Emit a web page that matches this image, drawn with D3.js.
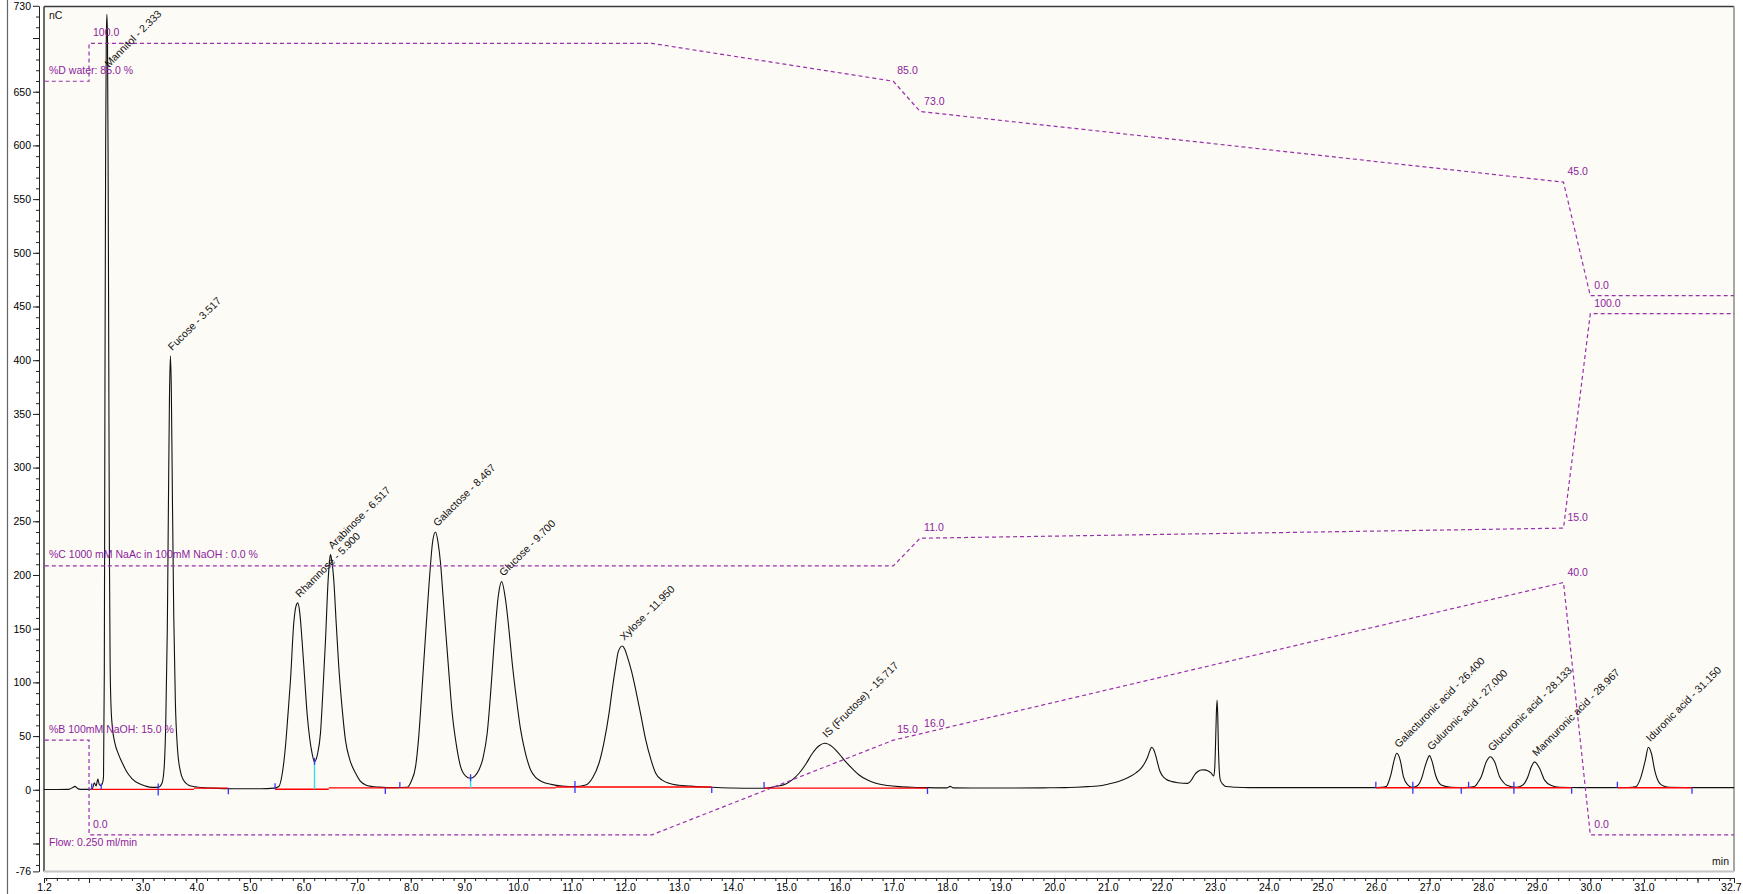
<!DOCTYPE html>
<html>
<head>
<meta charset="utf-8">
<script src="https://cdn.jsdelivr.net/npm/d3@7/dist/d3.min.js"></script>
<style>
    body { margin: 0; background: #ffffff; }
    svg { display: block; font-family: "Liberation Sans", Arial, sans-serif; }
</style>
</head>
<body>
<div id="chart"></div>
<script>
// detector signal, [time in min, response in nC]
var trace = [
    [1.16, 0.3], [1.40, 0.3], [1.62, 0.4], [1.70, 2.2], [1.74, 3.2], [1.78, 1.5], [1.84, 0.4], [2.00, 0.4],
    [2.06, 1.0], [2.10, 6.5], [2.13, 3.5], [2.165, 10], [2.19, 5], [2.22, 4], [2.25, 6],
    [2.27, 12], [2.285, 110], [2.297, 380], [2.31, 600], [2.322, 700], [2.333, 722], [2.344, 700], [2.356, 580],
    [2.368, 400], [2.38, 220], [2.393, 120], [2.41, 78], [2.44, 56], [2.48, 44], [2.55, 33], [2.62, 25],
    [2.70, 17], [2.80, 10.5], [2.92, 6], [3.05, 3.5], [3.18, 2.2], [3.30, 2.5],
    [3.36, 6], [3.40, 20], [3.43, 60], [3.46, 150], [3.48, 262], [3.50, 365], [3.517, 404], [3.535, 372],
    [3.555, 272], [3.58, 162], [3.61, 82], [3.65, 38], [3.70, 18], [3.76, 9], [3.85, 4.5], [3.95, 3],
    [4.10, 2], [4.30, 1.5], [4.70, 1.0], [5.20, 1.0], [5.45, 1.5],
    [5.54, 3], [5.60, 14], [5.663, 40], [5.71, 70], [5.757, 102], [5.818, 155], [5.86, 171], [5.893, 174],
    [5.93, 165], [5.973, 139], [6.02, 105], [6.067, 71], [6.115, 48], [6.16, 34], [6.205, 26],
    [6.26, 33], [6.317, 53], [6.365, 95], [6.41, 139], [6.459, 195], [6.49, 215], [6.503, 219], [6.525, 214],
    [6.565, 195], [6.61, 155], [6.658, 114.6], [6.72, 76], [6.783, 46], [6.87, 27], [6.97, 15.6], [7.06, 8],
    [7.157, 4.5], [7.28, 3], [7.405, 2.5], [7.70, 2], [7.933, 2.3],
    [8.01, 8], [8.09, 21.5], [8.15, 50], [8.213, 96], [8.275, 143], [8.338, 189], [8.413, 232.6], [8.463, 240],
    [8.51, 230], [8.556, 211], [8.60, 182], [8.65, 148.8], [8.71, 110], [8.773, 71.5], [8.85, 42], [8.93, 21.5],
    [9.02, 13], [9.116, 10.7],
    [9.19, 12.5], [9.271, 18.4], [9.35, 30], [9.426, 52.6], [9.49, 90], [9.551, 133], [9.632, 180], [9.695, 193.8],
    [9.769, 176.7], [9.83, 150], [9.893, 117.8], [9.97, 85], [10.05, 55.7], [10.14, 34], [10.236, 18.4], [10.34, 11],
    [10.45, 7.5], [10.62, 5], [10.826, 3.5], [11.05, 3],
    [11.263, 4.5], [11.39, 11], [11.511, 24.7], [11.60, 43], [11.698, 71.2], [11.76, 94], [11.822, 114.6], [11.871, 128.6],
    [11.946, 133.9], [11.99, 131], [12.039, 124], [12.12, 110], [12.196, 93], [12.29, 70], [12.383, 46.4], [12.48, 28],
    [12.569, 15.4], [12.69, 9], [12.817, 6], [13.00, 4.2], [13.19, 3.5], [13.40, 2.8], [13.625, 2.3],
    [14.0, 1.6], [14.4, 1.4],
    [14.622, 1.4], [14.80, 3], [14.995, 5.4], [15.12, 9.5], [15.244, 15.4], [15.37, 24], [15.492, 34], [15.617, 41],
    [15.723, 43.3], [15.865, 40], [15.99, 33.5], [16.115, 26], [16.24, 19.5], [16.363, 13.8], [16.52, 9], [16.675, 6],
    [16.89, 4], [17.11, 2.9], [17.35, 2.3], [17.608, 2],
    [17.9, 1.8], [18.0, 1.8], [18.06, 3.2], [18.12, 1.8], [18.6, 1.6], [19.2, 1.6], [19.8, 1.8], [20.2, 2.0],
    [20.42, 2.4], [20.62, 2.9], [20.813, 3.5], [21.0, 5.2], [21.186, 7.5], [21.31, 9.8], [21.434, 12.8], [21.53, 16],
    [21.621, 20], [21.69, 25], [21.746, 30.8], [21.79, 37], [21.82, 39.6], [21.86, 37], [21.9, 30.8], [21.935, 24],
    [21.965, 18.4], [22.02, 13], [22.088, 9.8], [22.2, 7.6], [22.306, 6.6], [22.493, 6], [22.56, 9], [22.617, 13.8],
    [22.68, 17], [22.74, 18.4], [22.80, 18.5], [22.865, 17.8], [22.93, 15.5], [22.977, 12.8], [22.995, 20], [23.009, 40],
    [23.025, 70], [23.039, 83.6], [23.052, 68], [23.065, 37], [23.08, 18], [23.1, 9], [23.15, 5], [23.205, 3],
    [23.4, 2.3], [23.643, 2], [24.5, 2], [25.3, 2], [25.976, 2],
    [26.1, 2.2], [26.193, 3], [26.24, 7.5], [26.286, 15], [26.342, 27.7], [26.391, 34], [26.454, 27.7], [26.516, 12],
    [26.596, 4.5], [26.678, 2.3], [26.75, 3], [26.814, 6], [26.86, 11.5], [26.907, 20], [26.958, 27.7], [27.0, 31.8],
    [27.051, 26], [27.113, 13.8], [27.219, 4.5], [27.406, 2.3], [27.65, 2], [27.841, 3], [27.90, 6.5], [27.966, 12.2],
    [28.06, 26], [28.134, 30.8], [28.215, 26], [28.308, 12.2], [28.37, 7.5], [28.433, 4.5], [28.62, 2.3], [28.743, 4.5],
    [28.836, 12.2], [28.9, 21.5], [28.961, 26], [29.054, 20], [29.147, 9], [29.273, 4], [29.428, 2.3], [29.8, 2],
    [30.3, 2], [30.7, 2.1], [30.854, 3], [30.947, 12.2], [31.027, 27.7], [31.083, 39.6], [31.139, 34], [31.2, 18.4],
    [31.294, 6], [31.38, 3.3], [31.48, 2.3], [32.0, 2], [32.68, 2]
];

// peak names and retention times as labelled
var peakNames = ["Mannitol", "Fucose", "Rhamnose", "Arabinose", "Galactose", "Glucose", "Xylose",
    "IS (Fructose)", "Galacturonic acid", "Guluronic acid", "Glucuronic acid", "Mannuronic acid", "Iduronic acid"];
var peakTimes = [2.333, 3.517, 5.900, 6.517, 8.467, 9.700, 11.950, 15.717, 26.400, 27.000, 28.133, 28.967, 31.150];

// integration baselines
var baseStart = [2.05, 3.956, 5.47, 6.472, 10.703, 14.59, 26.0, 30.505];
var baseEnd = [3.956, 4.598, 6.472, 10.703, 13.614, 17.638, 29.652, 31.897];
var baseLevel = [0.3, 1.5, 0.5, 1.7, 2.6, 1.6, 1.9, 1.9];

// peak start / end markers (s = start, e = end, b = both)
var markTimes = [2.05, 2.227, 3.29, 4.598, 5.47, 7.526, 7.797, 11.063, 13.614, 14.59, 17.638,
    26.0, 26.69, 27.593, 27.73, 28.575, 29.652, 30.505, 31.897];
var markKinds = ["s", "s", "b", "e", "s", "e", "s", "b", "e", "s", "e",
    "s", "b", "e", "s", "b", "e", "s", "e"];

// valley drop lines
var dropTimes = [6.205, 9.116];

// gradient program
var gradTime = [0, 2.0, 2.0, 12.5, 17.0, 17.5, 29.5, 30.0, 40.0];
var pctD = [85, 85, 100, 100, 85, 73, 45, 0, 0];
var pctC = [0, 0, 0, 0, 0, 11, 15, 100, 100];
var pctB = [15, 15, 0, 0, 15, 16, 40, 0, 0];
var gradNames = ["%D water:", "%C 1000 mM NaAc in 100mM NaOH :", "%B 100mM NaOH:"];
var flowText = "Flow: 0.250 ml/min";

// axis ticks
var xMajor = [1.16, 2, 3, 4, 5, 6, 7, 8, 9, 10, 11, 12, 13, 14, 15, 16, 17, 18, 19, 20,
    21, 22, 23, 24, 25, 26, 27, 28, 29, 30, 31, 32, 32.68];
var xHidden = [2, 32];
var yMajor = [730, 700, 650, 600, 550, 500, 450, 400, 350, 300, 250, 200, 150, 100, 50, 0, -50, -76];
var yHidden = [700, -50];

// size of the page and the plot frame
var width = 1743, height = 894;
var plotLeft = 44, plotRight = 1734, plotTop = 5.8, plotBottom = 871.4, frameTop = 6.5;
var purple = "#9b2fae", purpleText = "#8c1d9c";

var svg = d3.select("#chart")
    .append("svg")
        .attr("width", width)
        .attr("height", height);

// scales
var x = d3.scaleLinear().domain([1.16, 32.68]).range([plotLeft, plotRight]);
var y = d3.scaleLinear().domain([-76, 730]).range([plotBottom, plotTop]);

// outer border line at the far left
svg.append("line")
    .attr("x1", 7.5).attr("x2", 7.5).attr("y1", 0).attr("y2", height)
    .attr("stroke", "#666").attr("stroke-width", 1.2);

// plot background
svg.append("rect")
    .attr("x", plotLeft).attr("y", frameTop)
    .attr("width", plotRight - plotLeft).attr("height", plotBottom - frameTop)
    .attr("fill", "#fdfbf6");

svg.append("defs").append("clipPath").attr("id", "plotClip")
    .append("rect")
        .attr("x", plotLeft).attr("y", frameTop)
        .attr("width", plotRight - plotLeft).attr("height", plotBottom - frameTop);

// frame lines
svg.append("line").attr("x1", plotLeft).attr("x2", plotRight).attr("y1", frameTop).attr("y2", frameTop)
    .attr("stroke", "#3a3a3a").attr("stroke-width", 1.5);
svg.append("line").attr("x1", plotLeft).attr("x2", plotLeft).attr("y1", frameTop).attr("y2", plotBottom)
    .attr("stroke", "#3a3a3a").attr("stroke-width", 1.5);
svg.append("line").attr("x1", plotRight).attr("x2", plotRight).attr("y1", frameTop).attr("y2", plotBottom)
    .attr("stroke", "#8a8a8a").attr("stroke-width", 1.5);
svg.append("line").attr("x1", plotLeft).attr("x2", plotRight).attr("y1", plotBottom).attr("y2", plotBottom)
    .attr("stroke", "#c4c4c4").attr("stroke-width", 2);

// y axis, minor ticks first
svg.append("g")
    .attr("transform", "translate(39,0)")
    .call(d3.axisLeft(y).tickValues(d3.range(-70, 730, 10)).tickSize(3).tickFormat(""))
    .call(g => g.select(".domain").remove())
    .call(g => g.selectAll("line").attr("stroke", "#222"));

svg.append("g")
    .attr("transform", "translate(39,0)")
    .call(d3.axisLeft(y).tickValues(yMajor).tickSize(6).tickSizeOuter(0).tickPadding(2)
        .tickFormat(d => yHidden.includes(d) ? "" : d))
    .call(g => g.selectAll("text").style("font-size", "10.5px").style("font-family", "Liberation Sans, Arial"))
    .call(g => g.selectAll("line, path").attr("stroke", "#222"));

// x axis, minor ticks first
var xAxisY = 878;
svg.append("g")
    .attr("transform", `translate(0,${xAxisY})`)
    .call(d3.axisBottom(x).tickValues(d3.range(6, 164).map(i => i / 5)).tickSize(3).tickFormat(""))
    .call(g => g.select(".domain").remove())
    .call(g => g.selectAll("line").attr("stroke", "#222"));

svg.append("g")
    .attr("transform", `translate(0,${xAxisY})`)
    .call(d3.axisBottom(x).tickValues(xMajor).tickSize(5).tickSizeOuter(0).tickPadding(1)
        .tickFormat(d => xHidden.includes(d) ? "" : d3.format(".1f")(d)))
    .call(g => g.selectAll("text").style("font-size", "10.5px").style("font-family", "Liberation Sans, Arial"))
    .call(g => g.selectAll("line, path").attr("stroke", "#222"))
    // keep the end label inside the page
    .call(g => g.selectAll(".tick").filter(d => d == xMajor[xMajor.length - 1])
        .select("text").attr("text-anchor", "end").attr("x", width - 2 - x(xMajor[xMajor.length - 1])));

// unit labels
svg.append("text").attr("x", 49).attr("y", 19).text("nC")
    .style("font-size", "10.5px").attr("fill", "#111");
svg.append("text").attr("x", 1729).attr("y", 865).attr("text-anchor", "end").text("min")
    .style("font-size", "10.5px").attr("fill", "#111");

var plot = svg.append("g").attr("clip-path", "url(#plotClip)");

// the chromatogram
var line = d3.line()
    .x(d => x(d[0]))
    .y(d => y(d[1]))
    .curve(d3.curveMonotoneX);

plot.append("path")
    .datum(trace)
    .attr("d", line)
    .attr("fill", "none")
    .attr("stroke", "#111")
    .attr("stroke-width", 1.1);

// value of the trace at a time
function traceAt(t) {
    var i = d3.bisector(d => d[0]).left(trace, t);
    if (i <= 0) return trace[0][1];
    if (i >= trace.length) return trace[trace.length - 1][1];
    var a = trace[i - 1], b = trace[i];
    return a[1] + (b[1] - a[1]) * (t - a[0]) / (b[0] - a[0]);
}

// baseline level at a time
function baseAt(t) {
    for (var i = 0; i < baseStart.length; i++) {
        if (t >= baseStart[i] - 0.01 && t <= baseEnd[i] + 0.01) return baseLevel[i];
    }
    return traceAt(t);
}

// integration baselines in red
baseStart.forEach(function(s, i) {
    plot.append("line")
        .attr("x1", x(s)).attr("x2", x(baseEnd[i]))
        .attr("y1", y(baseLevel[i])).attr("y2", y(baseLevel[i]))
        .attr("stroke", "#ff0000").attr("stroke-width", 1.3);
});

// valley drop lines
dropTimes.forEach(function(t) {
    var v = traceAt(t);
    plot.append("line")
        .attr("x1", x(t)).attr("x2", x(t))
        .attr("y1", y(v)).attr("y2", y(baseAt(t)))
        .attr("stroke", "#22e0f0").attr("stroke-width", 1.3);
    plot.append("line")
        .attr("x1", x(t)).attr("x2", x(t))
        .attr("y1", y(v) - 4).attr("y2", y(v) + 3)
        .attr("stroke", "#3333ff").attr("stroke-width", 1.3);
});

// start and end markers
markTimes.forEach(function(t, i) {
    var by = y(baseAt(t));
    var k = markKinds[i];
    var up = (k == "e") ? 0 : 6;
    var down = (k == "s") ? 0 : 6;
    plot.append("line")
        .attr("x1", x(t)).attr("x2", x(t))
        .attr("y1", by - up).attr("y2", by + down)
        .attr("stroke", "#3333ff").attr("stroke-width", 1.3);
});

// gradient lanes, each channel scaled over its own range
var channels = [
    {pct: pctD, name: gradNames[0], lo: 460.1},
    {pct: pctC, name: gradNames[1], lo: 208.4},
    {pct: pctB, name: gradNames[2], lo: -41.9}
];
var laneSpan = 234.9;

channels.forEach(function(ch) {
    var lane = d3.scaleLinear()
        .domain([d3.min(ch.pct), d3.max(ch.pct)])
        .range([ch.lo, ch.lo + laneSpan]);

    var pts = gradTime.map((t, i) => [t, lane(ch.pct[i])]);

    plot.append("path")
        .datum(pts)
        .attr("d", d3.line().x(d => x(d[0])).y(d => y(d[1])))
        .attr("fill", "none")
        .attr("stroke", purple)
        .attr("stroke-width", 1.2)
        .attr("stroke-dasharray", "4,3");

    // label the starting value
    plot.append("text")
        .attr("x", 49)
        .attr("y", y(lane(ch.pct[0])) - 7.5)
        .text(ch.name + " " + ch.pct[0].toFixed(1) + " %")
        .style("font-size", "10.5px")
        .attr("fill", purpleText);

    // label every point where the value changes
    for (var i = 1; i < gradTime.length - 1; i++) {
        if (ch.pct[i] != ch.pct[i - 1]) {
            plot.append("text")
                .attr("x", x(gradTime[i]) + 4)
                .attr("y", y(lane(ch.pct[i])) - 7)
                .text(ch.pct[i].toFixed(1))
                .style("font-size", "10.5px")
                .attr("fill", purpleText);
        }
    }
});

// flow text
plot.append("text")
    .attr("x", 49).attr("y", 846)
    .text(flowText)
    .style("font-size", "10.5px")
    .attr("fill", purpleText);

// peak labels, rotated, starting at the apex of each peak
peakNames.forEach(function(name, i) {
    var rt = peakTimes[i];
    var near = trace.filter(d => Math.abs(d[0] - rt) <= 0.12);
    var apex = near.reduce((a, b) => (b[1] > a[1] ? b : a));

    var label = svg.append("text")
        .text(name + " - " + rt.toFixed(3))
        .style("font-size", "10.5px")
        .attr("fill", "#111");

    var len = label.node().getComputedTextLength();
    var ax = x(apex[0]) + 2;
    var ay = Math.max(y(apex[1]) - 5, frameTop + len * 0.7071 + 8);

    label.attr("transform", `translate(${ax},${ay}) rotate(-45)`);
});
</script>
</body>
</html>
